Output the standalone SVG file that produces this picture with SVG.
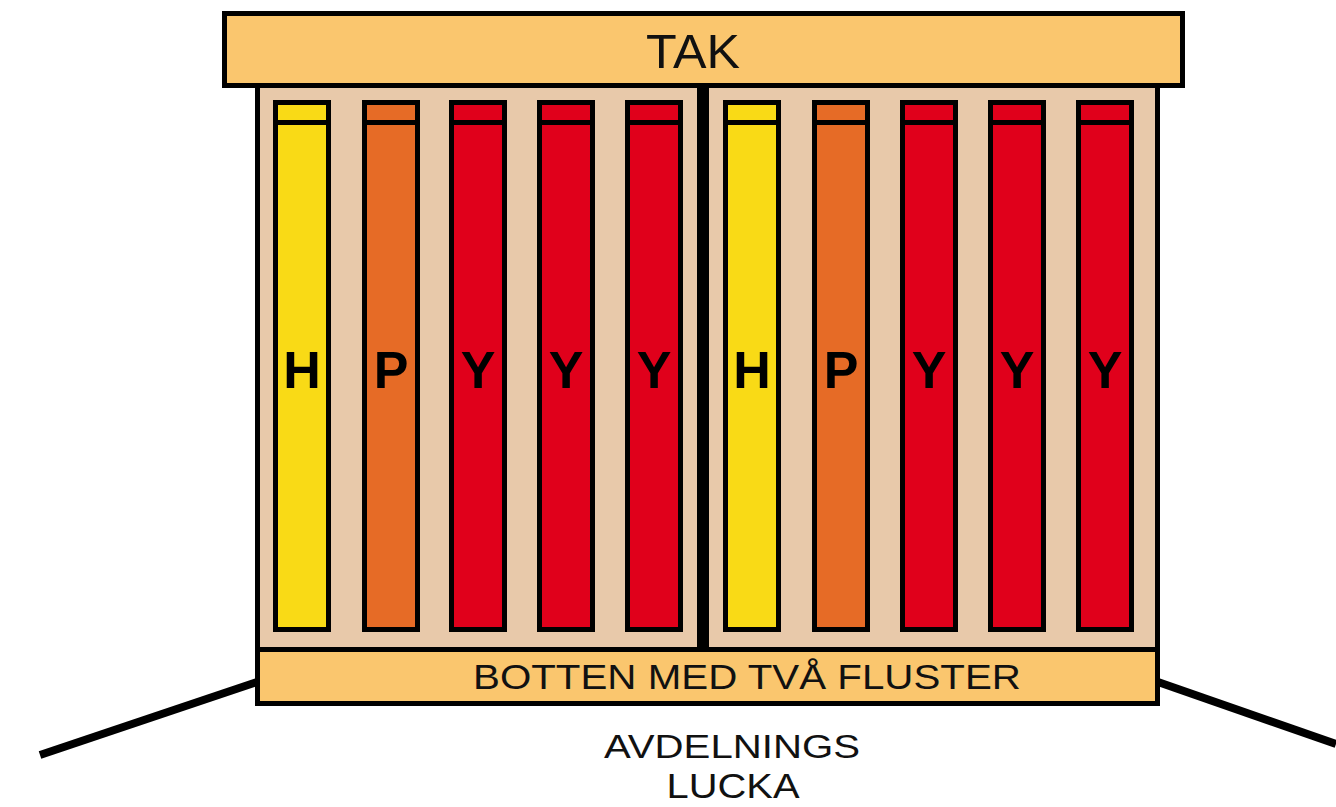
<svg xmlns="http://www.w3.org/2000/svg" width="1336" height="807" viewBox="0 0 1336 807">
<style>
.plank{fill:#FAC66E;stroke:#000;stroke-width:5}
.body{fill:#E8C9AA;stroke:#000;stroke-width:5}
.frame{stroke:#000;stroke-width:5}
.h{fill:#F9DA16}
.p{fill:#E66B26}
.y{fill:#E0001B}
.bar{stroke:#000;stroke-width:5}
.lbl{font-family:"Liberation Sans",Arial,sans-serif;font-weight:bold;font-size:52px;text-anchor:middle;fill:#000}
.txt{font-family:"Liberation Sans",Arial,sans-serif;text-anchor:middle;fill:#111}
.leg{stroke:#000;stroke-width:8;fill:none}
</style>
<rect width="1336" height="807" fill="#fff"/>
<g id="connectors">
<line class="leg" x1="257" y1="682" x2="40" y2="755"/>
<line class="leg" x1="1158" y1="682" x2="1336" y2="744"/>
</g>
<g id="body">
<rect class="body" x="257.5" y="84" width="900" height="566"/>
<rect x="697" y="84" width="12" height="566" fill="#000"/>
</g>
<g id="tak">
<rect class="plank" x="224.5" y="13.5" width="958" height="72"/>
<text class="txt" x="693" y="68" font-size="48" textLength="94" lengthAdjust="spacingAndGlyphs">TAK</text>
</g>
<g id="botten">
<rect class="plank" x="257.5" y="649.5" width="900" height="54"/>
<text class="txt" x="747" y="689" font-size="35" textLength="548" lengthAdjust="spacingAndGlyphs">BOTTEN MED TVÅ FLUSTER</text>
</g>
<g id="frame-h1"><rect class="frame h" x="275.5" y="102.5" width="53" height="527"/><line class="bar" x1="275.5" y1="122.5" x2="328.5" y2="122.5"/><text class="lbl" x="302" y="388">H</text></g>
<g id="frame-p1"><rect class="frame p" x="364.5" y="102.5" width="53" height="527"/><line class="bar" x1="364.5" y1="122.5" x2="417.5" y2="122.5"/><text class="lbl" x="391" y="388">P</text></g>
<g id="frame-y1"><rect class="frame y" x="451.5" y="102.5" width="53" height="527"/><line class="bar" x1="451.5" y1="122.5" x2="504.5" y2="122.5"/><text class="lbl" x="478" y="388">Y</text></g>
<g id="frame-y2"><rect class="frame y" x="539.5" y="102.5" width="53" height="527"/><line class="bar" x1="539.5" y1="122.5" x2="592.5" y2="122.5"/><text class="lbl" x="566" y="388">Y</text></g>
<g id="frame-y3"><rect class="frame y" x="627.5" y="102.5" width="53" height="527"/><line class="bar" x1="627.5" y1="122.5" x2="680.5" y2="122.5"/><text class="lbl" x="654" y="388">Y</text></g>
<g id="frame-h2"><rect class="frame h" x="725.5" y="102.5" width="53" height="527"/><line class="bar" x1="725.5" y1="122.5" x2="778.5" y2="122.5"/><text class="lbl" x="752" y="388">H</text></g>
<g id="frame-p2"><rect class="frame p" x="814.5" y="102.5" width="53" height="527"/><line class="bar" x1="814.5" y1="122.5" x2="867.5" y2="122.5"/><text class="lbl" x="841" y="388">P</text></g>
<g id="frame-y4"><rect class="frame y" x="902.5" y="102.5" width="53" height="527"/><line class="bar" x1="902.5" y1="122.5" x2="955.5" y2="122.5"/><text class="lbl" x="929" y="388">Y</text></g>
<g id="frame-y5"><rect class="frame y" x="990.5" y="102.5" width="53" height="527"/><line class="bar" x1="990.5" y1="122.5" x2="1043.5" y2="122.5"/><text class="lbl" x="1017" y="388">Y</text></g>
<g id="frame-y6"><rect class="frame y" x="1078.5" y="102.5" width="53" height="527"/><line class="bar" x1="1078.5" y1="122.5" x2="1131.5" y2="122.5"/><text class="lbl" x="1105" y="388">Y</text></g>
<g id="label-lucka">
<text class="txt" x="732" y="758" font-size="34" textLength="256" lengthAdjust="spacingAndGlyphs">AVDELNINGS</text>
<text class="txt" x="733" y="798" font-size="35" textLength="133" lengthAdjust="spacingAndGlyphs">LUCKA</text>
</g>
</svg>
